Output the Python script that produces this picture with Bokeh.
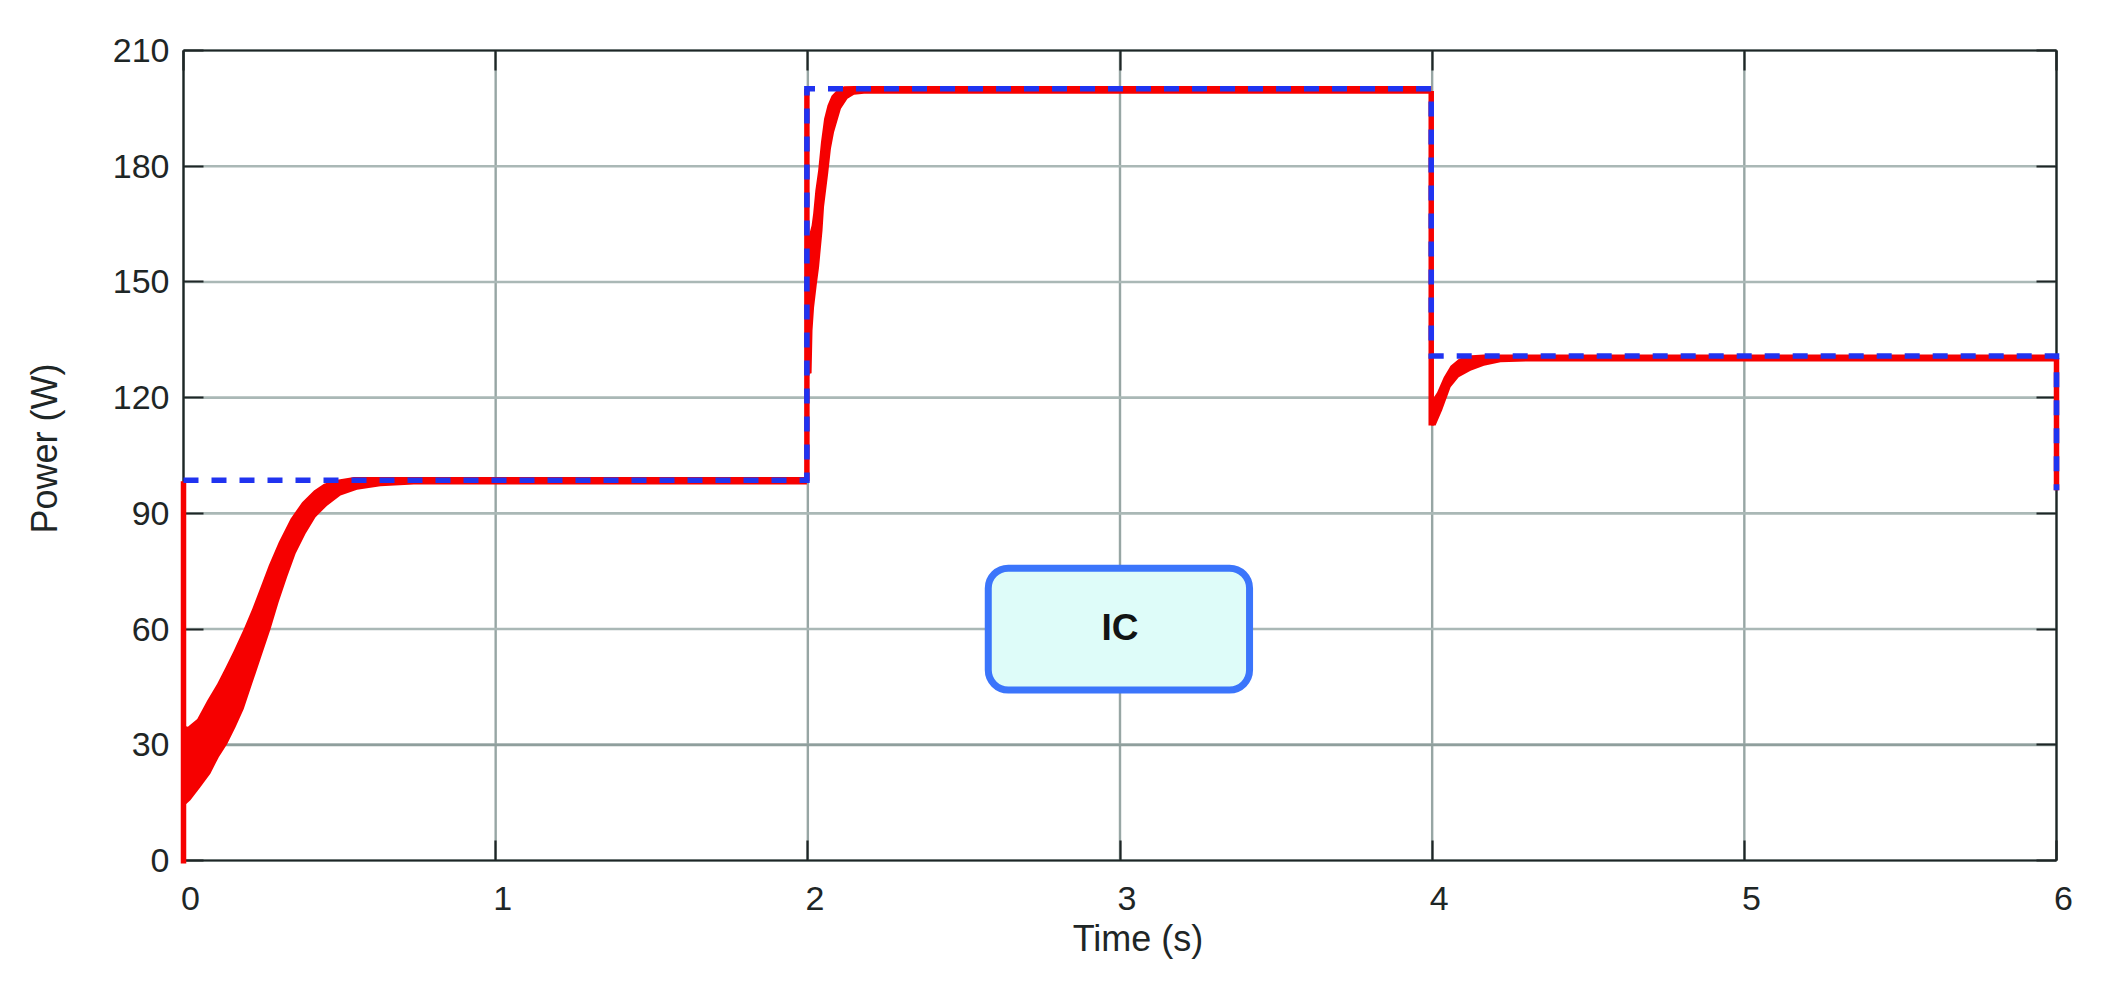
from bokeh.core.properties import value
from bokeh.embed import file_html
from bokeh.resources import INLINE
from bokeh.plotting import figure
from bokeh.models import LinearAxis, FixedTicker, Range1d

# ---------- data ----------
x_ticks = [0, 1, 2, 3, 4, 5, 6]
y_ticks = [0, 30, 60, 90, 120, 150, 180, 210]

# measured (red) power: upper edge of the oscillation envelope
upper_time = [0, .014, .044, .076, .108, .135, .161, .193, .22, .247, .273, .305, .343, .38, .418, .45, .492, .546, 1.997,
              1.997, 2.012, 2.017, 2.024, 2.033, 2.042, 2.052, 2.063, 2.076, 2.095, 2.116, 2.148, 3.997,
              3.997, 4.016, 4.037, 4.059, 4.085, 4.112, 4.166, 6.0]
upper_power = [35, 34.7, 36.7, 41.5, 45.8, 50.1, 54.4, 60, 65.2, 70.9, 76.5, 82.5, 88.6, 92.9, 95.9, 97.7, 98.7, 99.4, 99.4,
               160, 164.6, 167.7, 173.7, 178.9, 186.2, 192.3, 195.8, 198.3, 199.9, 200.7, 200.8, 200.8,
               119, 121.4, 125.3, 128.3, 130, 130.9, 131.2, 131.2]

# measured (red) power: lower edge of the oscillation envelope
lower_time = [0, .022, .054, .086, .113, .14, .167, .193, .22, .247, .279, .305, .332, .359, .391, .423, .46, .503, .556, .631, .738, 1.997,
              1.997, 2.012, 2.015, 2.02, 2.029, 2.036, 2.047, 2.052, 2.065, 2.074, 2.084, 2.106, 2.127, 2.148, 2.18, 3.997,
              3.997, 4.011, 4.032, 4.059, 4.085, 4.123, 4.166, 4.219, 4.326, 6.0]
lower_power = [14, 15.6, 19, 22.5, 26.8, 30.2, 34.6, 39.3, 45.8, 52.3, 60, 67, 73.5, 79.5, 84.7, 89, 92, 94.6, 96.1, 97, 97.5, 97.5,
               126, 126.3, 137.4, 143.4, 149.5, 153.8, 163.3, 169.5, 178, 184.5, 188.8, 194.9, 197.5, 198.5, 198.8, 198.8,
               112.8, 112.8, 116.7, 122.7, 125.3, 127, 128.3, 129.2, 129.4, 129.4]

# vertical transitions of the measured power
step_x = [[0, 0], [1.997, 1.997], [3.997, 3.997], [6, 6]]
step_y = [[-0.8, 98.3], [98.3, 200], [199.5, 112.8], [130.3, 96]]

# reference (blue dashed) maximum power
mpp_time = [0, 1.997, 1.997, 3.997, 3.997, 6, 6]
mpp_power = [98.6, 98.6, 200.1, 200.1, 130.8, 130.8, 96]

x_label = "Time (s)"
y_label = "Power (W)"
note = "IC"

# ---------- layout: the frame fills the figure, axes sit at fixed locations inside it ----------
FIG_W, FIG_H = 2115, 990
LEFT, TOP = 183, 50
BOX_W, BOX_H = 1873, 810
sx = BOX_W / 6
sy = BOX_H / 210
x0, x1 = -LEFT / sx, (FIG_W - LEFT) / sx
y1, y0 = 210 + TOP / sy, 210 - (FIG_H - TOP) / sy

FONT = "Liberation Sans, Arial, sans-serif"
INK = "#1e2626"

p = figure(width=FIG_W, height=FIG_H, frame_width=FIG_W, frame_height=FIG_H,
           x_range=Range1d(x0, x1), y_range=Range1d(y0, y1),
           x_axis_type=None, y_axis_type=None,
           min_border=0,
           output_backend="svg", toolbar_location=None, background_fill_color="white",
           outline_line_color=None)
p.grid.visible = False

# shifted range so that the x tick labels sit a little right of their ticks, as in the reference
LABEL_SHIFT = 7 / sx
p.extra_x_ranges["labels"] = Range1d(x0 - LABEL_SHIFT, x1 - LABEL_SHIFT)

# grid
p.segment(x0=x_ticks, y0=[0] * len(x_ticks), x1=x_ticks, y1=[210] * len(x_ticks),
          line_color="#97a6a4", line_width=2.4, level="image")
p.segment(x0=[0] * len(y_ticks), y0=y_ticks, x1=[6] * len(y_ticks), y1=y_ticks,
          line_color="#aab8b6", line_width=2.6, level="image")
p.segment(x0=[0], y0=[30], x1=[6], y1=[30], line_color="#8f9f9d", line_width=2.8, level="image")

blank_x = {t: "" for t in x_ticks}
blank_y = {t: "" for t in y_ticks}


def frame_axis(side, loc, ticks, blank, bounds):
    ax = LinearAxis(fixed_location=loc, ticker=FixedTicker(ticks=ticks), bounds=bounds,
                    major_label_overrides=blank, axis_line_color=INK, axis_line_width=2.2,
                    major_tick_line_color=INK, major_tick_line_width=2.2,
                    major_tick_in=20, major_tick_out=0, minor_tick_line_color=None, level="underlay")
    p.add_layout(ax, side)


frame_axis("below", 0, x_ticks, blank_x, (0, 6))
frame_axis("above", 210, x_ticks, blank_x, (0, 6))
frame_axis("left", 0, y_ticks, blank_y, (0, 210))
frame_axis("right", 6, y_ticks, blank_y, (0, 210))

# text-only axes
xlab = LinearAxis(fixed_location=0, x_range_name="labels", ticker=FixedTicker(ticks=x_ticks),
                  bounds=(0, 6.07), axis_line_color=None, major_tick_line_color=None,
                  minor_tick_line_color=None, major_label_standoff=20,
                  major_label_text_font=FONT, major_label_text_font_size="34px",
                  major_label_text_color=INK, axis_label=x_label, axis_label_standoff=5,
                  axis_label_text_font=FONT, axis_label_text_font_size="36px",
                  axis_label_text_font_style="normal", axis_label_text_color=INK)
p.add_layout(xlab, "below")
ylab = LinearAxis(fixed_location=0, ticker=FixedTicker(ticks=y_ticks), bounds=(0, 213.6),
                  axis_line_color=None, major_tick_line_color=None, minor_tick_line_color=None,
                  major_label_standoff=8, major_label_text_font=FONT, major_label_text_font_size="34px",
                  major_label_text_color=INK, axis_label=y_label, axis_label_standoff=45,
                  axis_label_text_font=FONT, axis_label_text_font_size="36px",
                  axis_label_text_font_style="normal", axis_label_text_color=INK)
p.add_layout(ylab, "left")

# measured power: envelope polygon plus the vertical transitions
p.patch(x=upper_time + lower_time[::-1], y=upper_power + lower_power[::-1],
        fill_color="#f60000", line_color=None)
p.multi_line(xs=step_x, ys=step_y, line_color="#f60000", line_width=5.5, line_cap="butt")

# reference power
p.line(mpp_time, mpp_power, line_color="#2033f0", line_width=5.6, line_dash=[15, 13],
       line_join="miter", line_cap="butt")

# annotation box
p.quad(left=[2.578], right=[3.415], top=[75.8], bottom=[44.2], fill_color="#defcf9",
       line_color="#3b75fb", line_width=7, border_radius=20)
p.text(x=[3.0], y=[60.4], text=[note], text_font=value("Liberation Sans"), text_font_size=value("37px"),
       text_font_style="bold", text_color="#111414", text_align="center", text_baseline="middle")

open("out.html", "w").write(file_html(p, INLINE))
